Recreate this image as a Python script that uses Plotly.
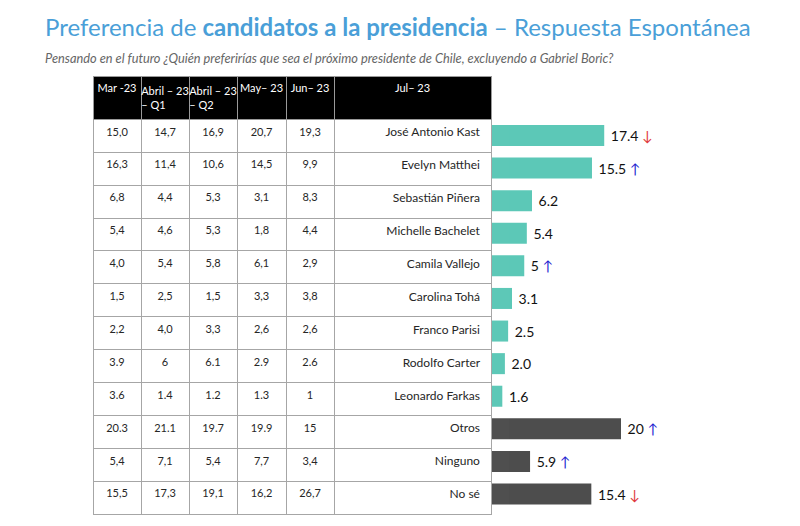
import plotly.graph_objects as go

# ---- data ----
headers = ["Mar -23", "Abril – 23<br>– Q1", "Abril – 23<br>– Q2", "May– 23", "Jun– 23", "Jul– 23"]
names = ["José Antonio Kast", "Evelyn Matthei", "Sebastián Piñera", "Michelle Bachelet",
         "Camila Vallejo", "Carolina Tohá", "Franco Parisi", "Rodolfo Carter",
         "Leonardo Farkas", "Otros", "Ninguno", "No sé"]
mar23 = ["15,0", "16,3", "6,8", "5,4", "4,0", "1,5", "2,2", "3.9", "3.6", "20.3", "5,4", "15,5"]
abr23_q1 = ["14,7", "11,4", "4,4", "4,6", "5,4", "2,5", "4,0", "6", "1.4", "21.1", "7,1", "17,3"]
abr23_q2 = ["16,9", "10,6", "5,3", "5,3", "5,8", "1,5", "3,3", "6.1", "1.2", "19.7", "5,4", "19,1"]
may23 = ["20,7", "14,5", "3,1", "1,8", "6,1", "3,3", "2,6", "2.9", "1.3", "19.9", "7,7", "16,2"]
jun23 = ["19,3", "9,9", "8,3", "4,4", "2,9", "3,8", "2,6", "2.6", "1", "15", "3,4", "26,7"]
jul23 = [17.4, 15.5, 6.2, 5.4, 5, 3.1, 2.5, 2.0, 1.6, 20, 5.9, 15.4]
jul23_labels = ["17.4", "15.5", "6.2", "5.4", "5", "3.1", "2.5", "2.0", "1.6", "20", "5.9", "15.4"]
trend = ["down", "up", "", "", "up", "", "", "", "", "up", "up", "down"]
group = ["cand"] * 9 + ["other"] * 3

TEAL = "#5cc8b7"
DARK = "#4d4d4d"
TITLE_BLUE = "#4a9fd8"
FONT = "Lato"
NB = "\u00a0"

# page body has an 8px margin: work in page pixels, convert to figure coordinates
OFF = 8
W, H = 800 - 2 * OFF, 526 - 2 * OFF
def px(x):
    return (x - OFF) / W
def py(y):
    return 1 - (y - OFF) / H

arrow_html = {"up": NB + "<span style='color:#2020d0'>↑</span>",
              "down": NB + "<span style='color:#e0393e'>↓</span>",
              "": ""}
bar_text = [NB + lab + arrow_html[t] for lab, t in zip(jul23_labels, trend)]
bar_colors = [TEAL if g == "cand" else DARK for g in group]

def hdr(s):
    return s.replace(" ", NB)

fig = go.Figure()

fig.add_trace(go.Table(
    domain=dict(x=[px(93), px(491)], y=[0, py(76)]),
    columnwidth=[48, 48, 48, 49, 48, 157],
    header=dict(values=[hdr(h) for h in headers],
                fill_color="black",
                line=dict(color="#9a9a9a", width=1),
                font=dict(family=FONT, size=11, color="white"),
                align="center", height=38),
    cells=dict(values=[mar23, abr23_q1, abr23_q2, may23, jun23,
                       [n + NB for n in names]],
               fill_color="white",
               line=dict(color="#a6a6a6", width=1),
               font=dict(family=FONT, size=[11, 11, 11, 11, 11, 12], color="#262626"),
               align=["center"] * 5 + ["right"],
               height=32.9),
))

fig.add_trace(go.Bar(
    x=jul23, y=names, orientation="h",
    marker=dict(color=bar_colors, line_width=0),
    text=bar_text, textposition="outside", cliponaxis=False,
    textfont=dict(family=FONT, size=14, color="#111"),
    xaxis="x", yaxis="y", hoverinfo="skip",
))

fig.update_layout(
    width=W, height=H,
    margin=dict(l=0, r=0, t=0, b=0),
    paper_bgcolor="white", plot_bgcolor="white",
    showlegend=False,
    bargap=0.355,
    xaxis=dict(domain=[px(492), 1], range=[0, (800 - OFF - 492) / 6.45], visible=False),
    yaxis=dict(domain=[py(510.3), py(119.2)], autorange="reversed",
               showticklabels=False, showgrid=False, zeroline=False,
               showline=True, linecolor="#a0a0a0", linewidth=1, anchor="x"),
    annotations=[
        dict(text="Preferencia de <b>candidatos a la presidencia</b> – Respuesta Espontánea",
             x=px(43), y=py(10), xref="paper", yref="paper", xanchor="left", yanchor="top",
             showarrow=False, font=dict(family=FONT, size=24, color=TITLE_BLUE)),
        dict(text="<i>Pensando en el futuro ¿Quién preferirías que sea el próximo presidente de Chile, excluyendo a Gabriel Boric?</i>",
             x=px(43), y=py(48), xref="paper", yref="paper", xanchor="left", yanchor="top",
             showarrow=False, font=dict(family=FONT, size=12.8, color="#666666")),
    ],
)

fig.write_html("out.html")
